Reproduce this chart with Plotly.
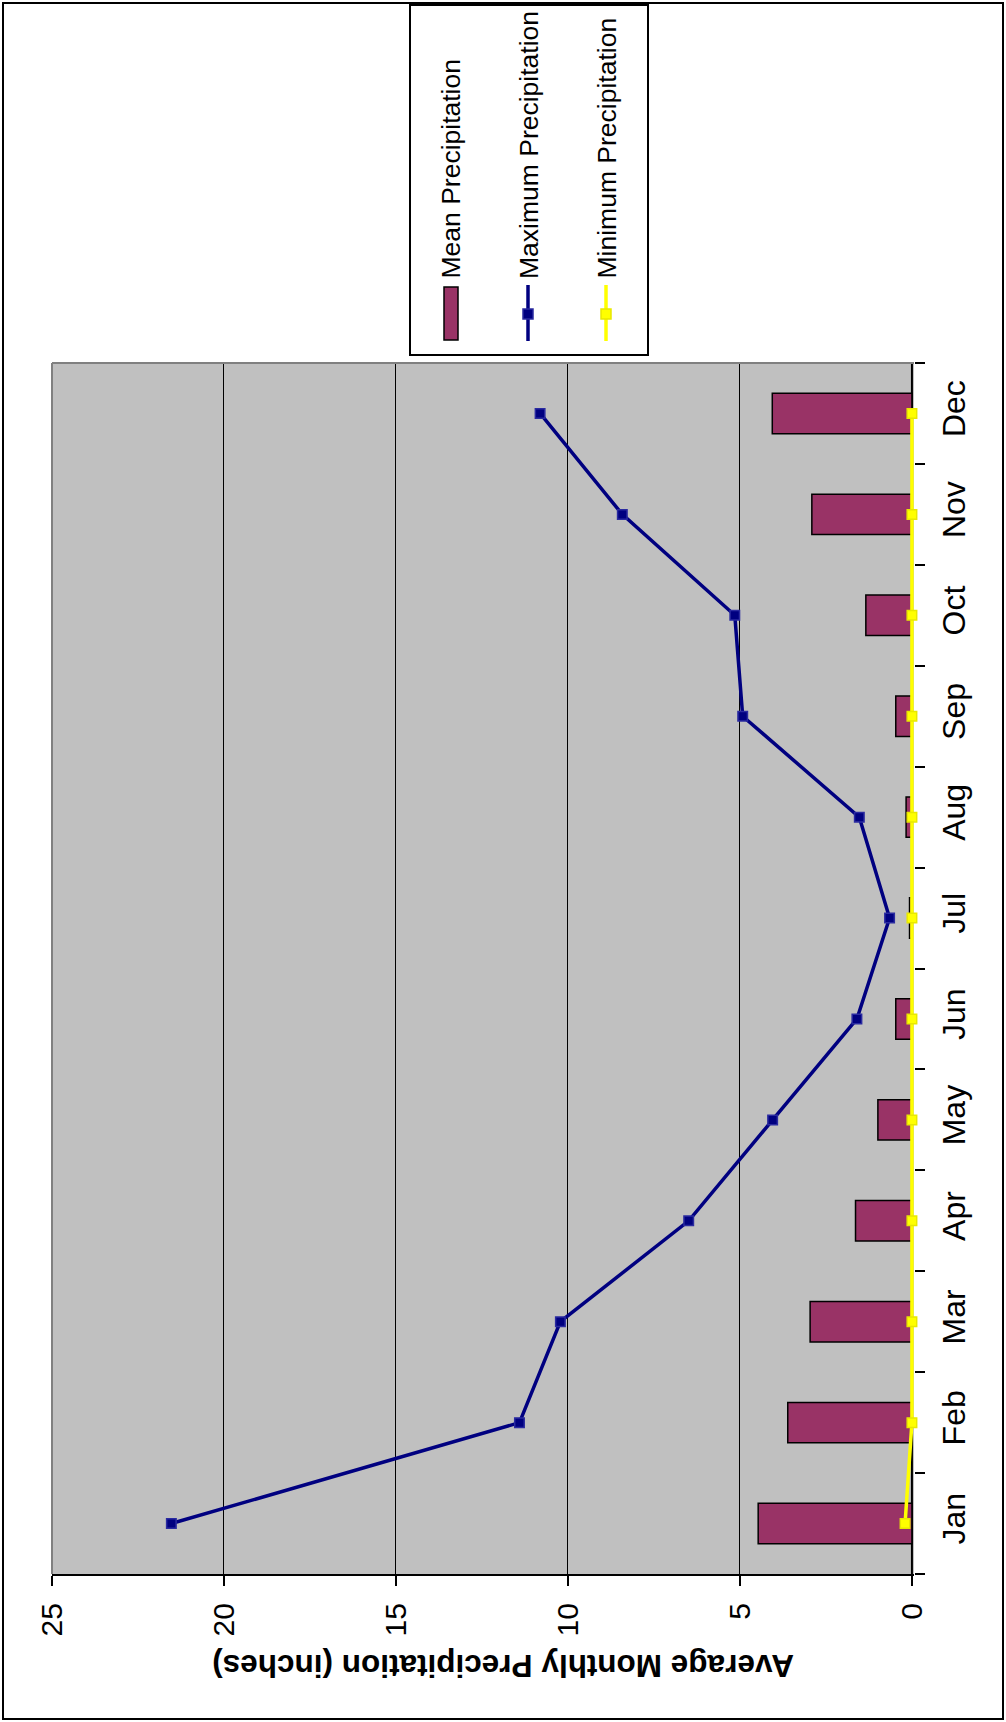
import plotly.graph_objects as go

# Monthly precipitation (inches)
months = ["Jan", "Feb", "Mar", "Apr", "May", "Jun",
          "Jul", "Aug", "Sep", "Oct", "Nov", "Dec"]
mean_precip = [4.47, 3.61, 2.96, 1.64, 0.99, 0.47, 0.07, 0.17, 0.47, 1.34, 2.91, 4.06]
max_precip = [21.53, 11.41, 10.22, 6.49, 4.05, 1.60, 0.65, 1.53, 4.92, 5.15, 8.42, 10.81]
min_precip = [0.20, 0.0, 0.0, 0.0, 0.0, 0.0, 0.0, 0.0, 0.0, 0.0, 0.0, 0.0]
value_ticks = [0, 5, 10, 15, 20, 25]

series_names = ["Mean Precipitation", "Maximum Precipitation", "Minimum Precipitation"]
axis_title = "Average Monthly Precipitation (inches)"

BAR_COLOR = "#993366"
MAX_COLOR = "#000080"
MIN_COLOR = "#FFFF00"
FONT = "Liberation Sans, Arial, sans-serif"

W, H = 1006, 1722
PL, PR, PT, PB = 52, 914, 363, 1574  # plot area in pixels


def px_x(p):
    return (p - PL) / (PR - PL)


def px_y(p):
    return (PB - p) / (PB - PT)


fig = go.Figure()

fig.add_trace(go.Bar(
    x=mean_precip, y=months, orientation="h", width=0.4,
    marker=dict(color=BAR_COLOR, line=dict(color="black", width=1.5)),
    name=series_names[0], showlegend=False,
))
fig.add_trace(go.Scatter(
    x=max_precip, y=months, mode="lines+markers",
    line=dict(color=MAX_COLOR, width=3.5),
    marker=dict(symbol="square", size=9.5, color=MAX_COLOR,
                line=dict(color="#2a2aa0", width=1.5)),
    name=series_names[1], showlegend=False, cliponaxis=False,
))
fig.add_trace(go.Scatter(
    x=min_precip, y=months, mode="lines+markers",
    line=dict(color=MIN_COLOR, width=3.5),
    marker=dict(symbol="square", size=9.5, color=MIN_COLOR,
                line=dict(color="#e8e800", width=1.5)),
    name=series_names[2], showlegend=False, cliponaxis=False,
))

shapes = []
annotations = []

# category axis line at zero, drawn beneath the series
shapes.append(dict(type="line", xref="x", yref="paper",
                   x0=0, x1=0, y0=0, y1=1,
                   line=dict(color="black", width=2), layer="below"))

# outer chart border
shapes.append(dict(type="rect", xref="paper", yref="paper",
                   x0=px_x(3), x1=px_x(1003), y0=px_y(3), y1=px_y(1719),
                   line=dict(color="black", width=2), fillcolor="rgba(0,0,0,0)",
                   layer="above"))
# grey plot-area frame (top and left edges)
shapes.append(dict(type="line", xref="paper", yref="paper",
                   x0=0, x1=1, y0=1, y1=1, line=dict(color="#808080", width=2),
                   layer="above"))
shapes.append(dict(type="line", xref="paper", yref="paper",
                   x0=0, x1=0, y0=0, y1=1, line=dict(color="#808080", width=2),
                   layer="above"))

# legend box
shapes.append(dict(type="rect", xref="paper", yref="paper",
                   x0=px_x(410), x1=px_x(648), y0=px_y(5), y1=px_y(355),
                   line=dict(color="black", width=2), fillcolor="white",
                   layer="above"))
# legend keys
shapes.append(dict(type="rect", xref="paper", yref="paper",
                   x0=px_x(444), x1=px_x(458), y0=px_y(287), y1=px_y(340),
                   line=dict(color="black", width=1.5), fillcolor=BAR_COLOR,
                   layer="above"))
for cx, col, edge in [(528, MAX_COLOR, "#2a2aa0"), (606, MIN_COLOR, "#e8e800")]:
    shapes.append(dict(type="line", xref="paper", yref="paper",
                       x0=px_x(cx), x1=px_x(cx), y0=px_y(285), y1=px_y(341),
                       line=dict(color=col, width=3.5), layer="above"))
    shapes.append(dict(type="rect", xref="paper", yref="paper",
                       x0=px_x(cx - 5), x1=px_x(cx + 5), y0=px_y(309), y1=px_y(319),
                       line=dict(color=edge, width=1.5), fillcolor=col,
                       layer="above"))
for cx, name in zip([450, 529, 606], series_names):
    annotations.append(dict(xref="paper", yref="paper", x=px_x(cx), y=px_y(281),
                            xanchor="center", yanchor="bottom", text=name,
                            textangle=-90, showarrow=False,
                            font=dict(family=FONT, size=26.5, color="black")))

# value axis title (upside-down)
annotations.append(dict(xref="paper", yref="paper", x=px_x(503), y=px_y(1666),
                        xanchor="center", yanchor="middle", text="<b>" + axis_title + "</b>",
                        textangle=180, showarrow=False,
                        font=dict(family=FONT, size=31.5, color="black")))

fig.update_layout(
    width=W, height=H,
    margin=dict(l=PL, r=W - PR, t=PT, b=H - PB, pad=0),
    paper_bgcolor="white", plot_bgcolor="#C0C0C0",
    font=dict(family=FONT, color="black"),
    showlegend=False, bargap=0.6,
    shapes=shapes, annotations=annotations,
)
fig.update_xaxes(
    range=[25, -0.06], tickvals=value_ticks, ticktext=[str(v) for v in value_ticks],
    ticks="outside", ticklen=10, tickwidth=1.5, tickcolor="black",
    showgrid=True, gridcolor="black", gridwidth=1, zeroline=False,
    showline=True, linecolor="black", linewidth=2,
    tickangle=-90, tickfont=dict(size=30, family=FONT), ticklabelstandoff=5,
    layer="below traces",
)
fig.update_yaxes(
    type="category", categoryorder="array", categoryarray=months,
    range=[-0.5, 11.5], tickson="boundaries", side="right",
    ticks="outside", ticklen=10, tickwidth=1.5, tickcolor="black",
    showline=False, showgrid=False,
    tickangle=-90, tickfont=dict(size=32, family=FONT), ticklabelstandoff=18,
    layer="below traces",
)

fig.write_html("out.html")
